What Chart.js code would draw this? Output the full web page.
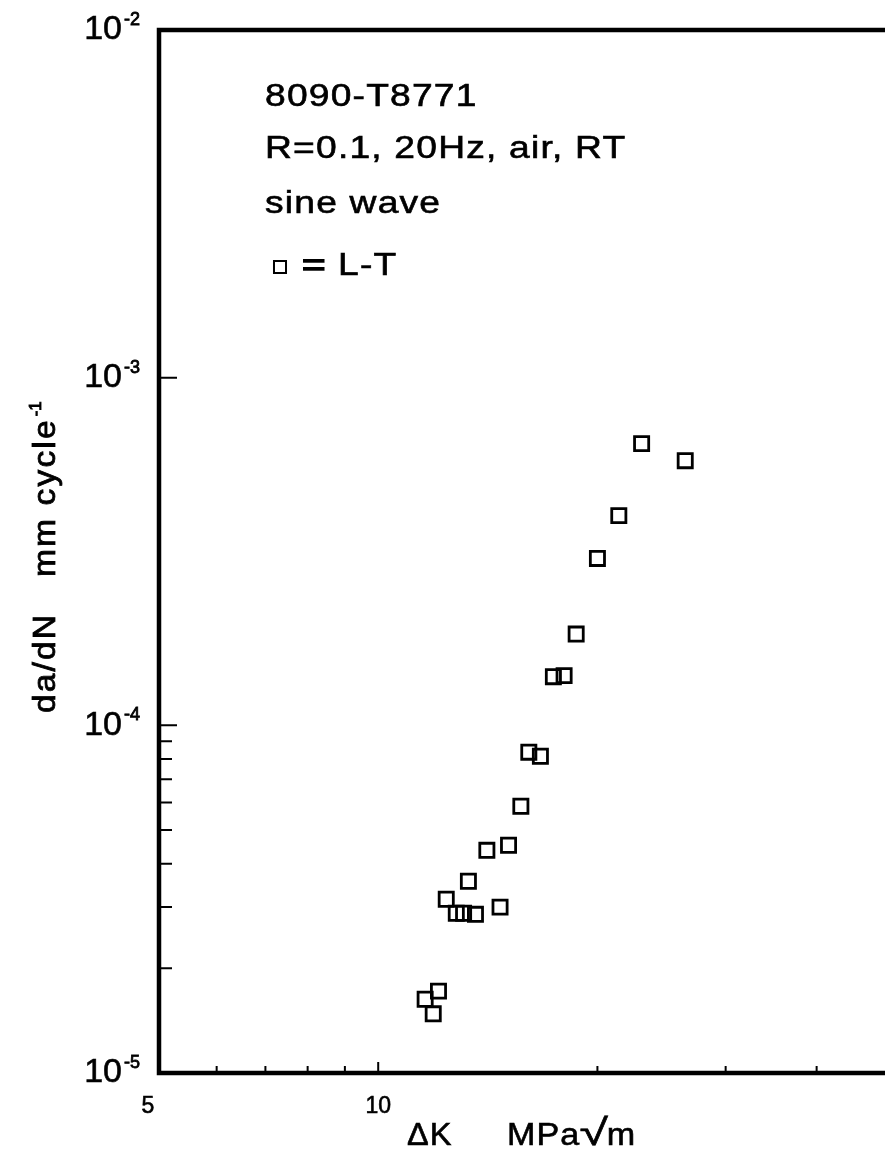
<!DOCTYPE html>
<html lang="en">
<head>
    <meta charset="UTF-8">
    <title>8090-T8771 fatigue crack growth</title>
    <script src="https://cdn.jsdelivr.net/npm/chart.js"></script>
    <style>
        html, body { margin: 0; padding: 0; background: #ffffff; overflow: hidden; }
        #growthChart { display: block; }
    </style>
</head>
<body>
    <canvas id="growthChart" width="900" height="1159"></canvas>

    <script>
        // Crack growth rate vs stress intensity range, L-T orientation
        const deltaK = [11.6, 11.9, 12.1, 12.4, 12.8, 13.1, 13.3, 13.6, 14.1, 14.7, 15.1,
                        15.7, 16.1, 16.7, 17.4, 18.0, 18.7, 20.0, 21.4, 23.0, 26.4];
        const dadN = [1.63e-5, 1.48e-5, 1.72e-5, 3.16e-5, 2.88e-5, 2.88e-5, 3.56e-5, 2.86e-5, 4.37e-5, 3.00e-5, 4.52e-5,
                      5.85e-5, 8.37e-5, 8.15e-5, 1.38e-4, 1.39e-4, 1.83e-4, 3.02e-4, 4.01e-4, 6.46e-4, 5.77e-4];

        const xRange = [5, 50];
        const xTickLabels = [5, 10];
        const xMinorTicks = [6, 7, 8, 9, 20, 30, 40];
        const yDecades = [-2, -3, -4, -5];

        const infoLines = ['8090-T8771', 'R=0.1, 20Hz, air, RT', 'sine wave'];
        const seriesName = 'L-T';
        const xTitle = ['\u0394K', 'MPa', '\u221A', 'm'];
        const yTitle = ['da/dN', 'mm cycle', '-1'];

        const FONT = "'Liberation Sans', Arial, sans-serif";

        // plotter-style text: optionally stretched sideways and slightly heavier
        function putText(ctx, text, x, y, size, opts) {
            const o = Object.assign({ spacing: 0, align: 'left', sx: 1, weight: 0.6 }, opts);
            ctx.save();
            ctx.font = size + 'px ' + FONT;
            ctx.letterSpacing = o.spacing + 'px';
            ctx.textAlign = o.align;
            ctx.translate(x, y);
            ctx.scale(o.sx, 1);
            ctx.fillText(text, 0, 0);
            if (o.weight > 0) {
                ctx.lineWidth = o.weight;
                ctx.strokeText(text, 0, 0);
            }
            const w = ctx.measureText(text).width * o.sx;
            ctx.restore();
            return w;
        }

        const framePlugin = {
            id: 'frame',
            beforeDatasetsDraw(chart) {
                const ctx = chart.ctx;
                const x = chart.scales.x, y = chart.scales.y;
                const area = chart.chartArea;
                ctx.save();
                ctx.strokeStyle = '#000';
                ctx.fillStyle = '#000';
                ctx.lineCap = 'butt';

                // axes box (right side runs past the page edge)
                ctx.lineWidth = 4.5;
                ctx.beginPath();
                ctx.moveTo(area.right + 4, area.top);
                ctx.lineTo(area.left, area.top);
                ctx.lineTo(area.left, area.bottom);
                ctx.lineTo(area.right + 4, area.bottom);
                ctx.stroke();

                // inward tick marks
                ctx.lineWidth = 2;
                ctx.beginPath();
                yDecades.forEach(d => {
                    const base = Math.pow(10, d);
                    const py = y.getPixelForValue(base);
                    ctx.moveTo(area.left, py); ctx.lineTo(area.left + 18, py);
                    if (d > yDecades[yDecades.length - 1]) return;
                    for (let k = 2; k <= 9; k++) {
                        const pm = y.getPixelForValue(k * base);
                        ctx.moveTo(area.left, pm); ctx.lineTo(area.left + 13, pm);
                    }
                });
                xTickLabels.slice(1).forEach(v => {
                    const px = x.getPixelForValue(v);
                    ctx.moveTo(px, area.bottom); ctx.lineTo(px, area.bottom - 11);
                });
                xMinorTicks.forEach(v => {
                    const px = x.getPixelForValue(v);
                    ctx.moveTo(px, area.bottom); ctx.lineTo(px, area.bottom - 7);
                });
                ctx.stroke();

                // y tick labels: 10 with superscript exponent
                yDecades.forEach(d => {
                    const py = y.getPixelForValue(Math.pow(10, d));
                    ctx.textBaseline = 'middle';
                    putText(ctx, '10', 122, py, 34, { align: 'right' });
                    ctx.textBaseline = 'alphabetic';
                    putText(ctx, String(d), 124, py - 5, 18, { weight: 0.8 });
                });

                // x tick labels
                ctx.textBaseline = 'alphabetic';
                xTickLabels.forEach((v, i) => {
                    const px = x.getPixelForValue(v) - (i === 0 ? 11 : 0);
                    putText(ctx, String(v), px, 1113, 23, { align: 'center' });
                });

                // x axis title
                putText(ctx, xTitle[0], 407, 1145, 31, { spacing: 1, sx: 1.05 });
                let cx = 507;
                cx += putText(ctx, xTitle[1], cx, 1145, 31, { spacing: 1, sx: 1.1 });
                cx += putText(ctx, xTitle[2], cx - 1, 1145, 37, { sx: 1.4 });
                putText(ctx, xTitle[3], cx - 2, 1145, 31, { sx: 1.1 });

                // y axis title, rotated
                ctx.save();
                ctx.translate(55, 713);
                ctx.rotate(-Math.PI / 2);
                putText(ctx, yTitle[0], 0, 0, 32, { spacing: 2, sx: 1.05, weight: 0.8 });
                const w = putText(ctx, yTitle[1], 136, 0, 32, { spacing: 2, sx: 1.05, weight: 0.8 });
                putText(ctx, yTitle[2], 136 + w + 2, -14, 17, { weight: 0.9 });
                ctx.restore();

                // test conditions and series key
                infoLines.forEach((line, i) => {
                    putText(ctx, line, 265, [106, 158, 213][i], 31, { spacing: 1, sx: 1.2 });
                });
                ctx.lineWidth = 2;
                ctx.fillStyle = '#fff';
                Chart.helpers.drawPoint(ctx, { pointStyle: 'rect', radius: 8.5, borderWidth: 2 }, 280, 267);
                ctx.fillStyle = '#000';
                putText(ctx, '=', 302, 275, 31, { sx: 1.3, weight: 1.5 });
                putText(ctx, seriesName, 338, 275, 31, { spacing: 1, sx: 1.2 });

                ctx.restore();
            }
        };

        new Chart(document.getElementById('growthChart'), {
            type: 'scatter',
            data: {
                datasets: [{
                    label: seriesName,
                    data: deltaK.map((k, i) => ({ x: k, y: dadN[i] })),
                    pointStyle: 'rect',
                    pointRadius: 10,
                    pointHoverRadius: 10,
                    borderColor: '#000',
                    backgroundColor: 'rgba(0,0,0,0)',
                    borderWidth: 2.8
                }]
            },
            options: {
                responsive: false,
                animation: false,
                devicePixelRatio: 1,
                layout: { padding: { left: 159, top: 30, right: 7, bottom: 86 } },
                plugins: { legend: { display: false }, tooltip: { enabled: false } },
                scales: {
                    x: { type: 'logarithmic', min: xRange[0], max: xRange[1], display: false },
                    y: { type: 'logarithmic', min: 1e-5, max: 1e-2, display: false }
                }
            },
            plugins: [framePlugin]
        });
    </script>
</body>
</html>
